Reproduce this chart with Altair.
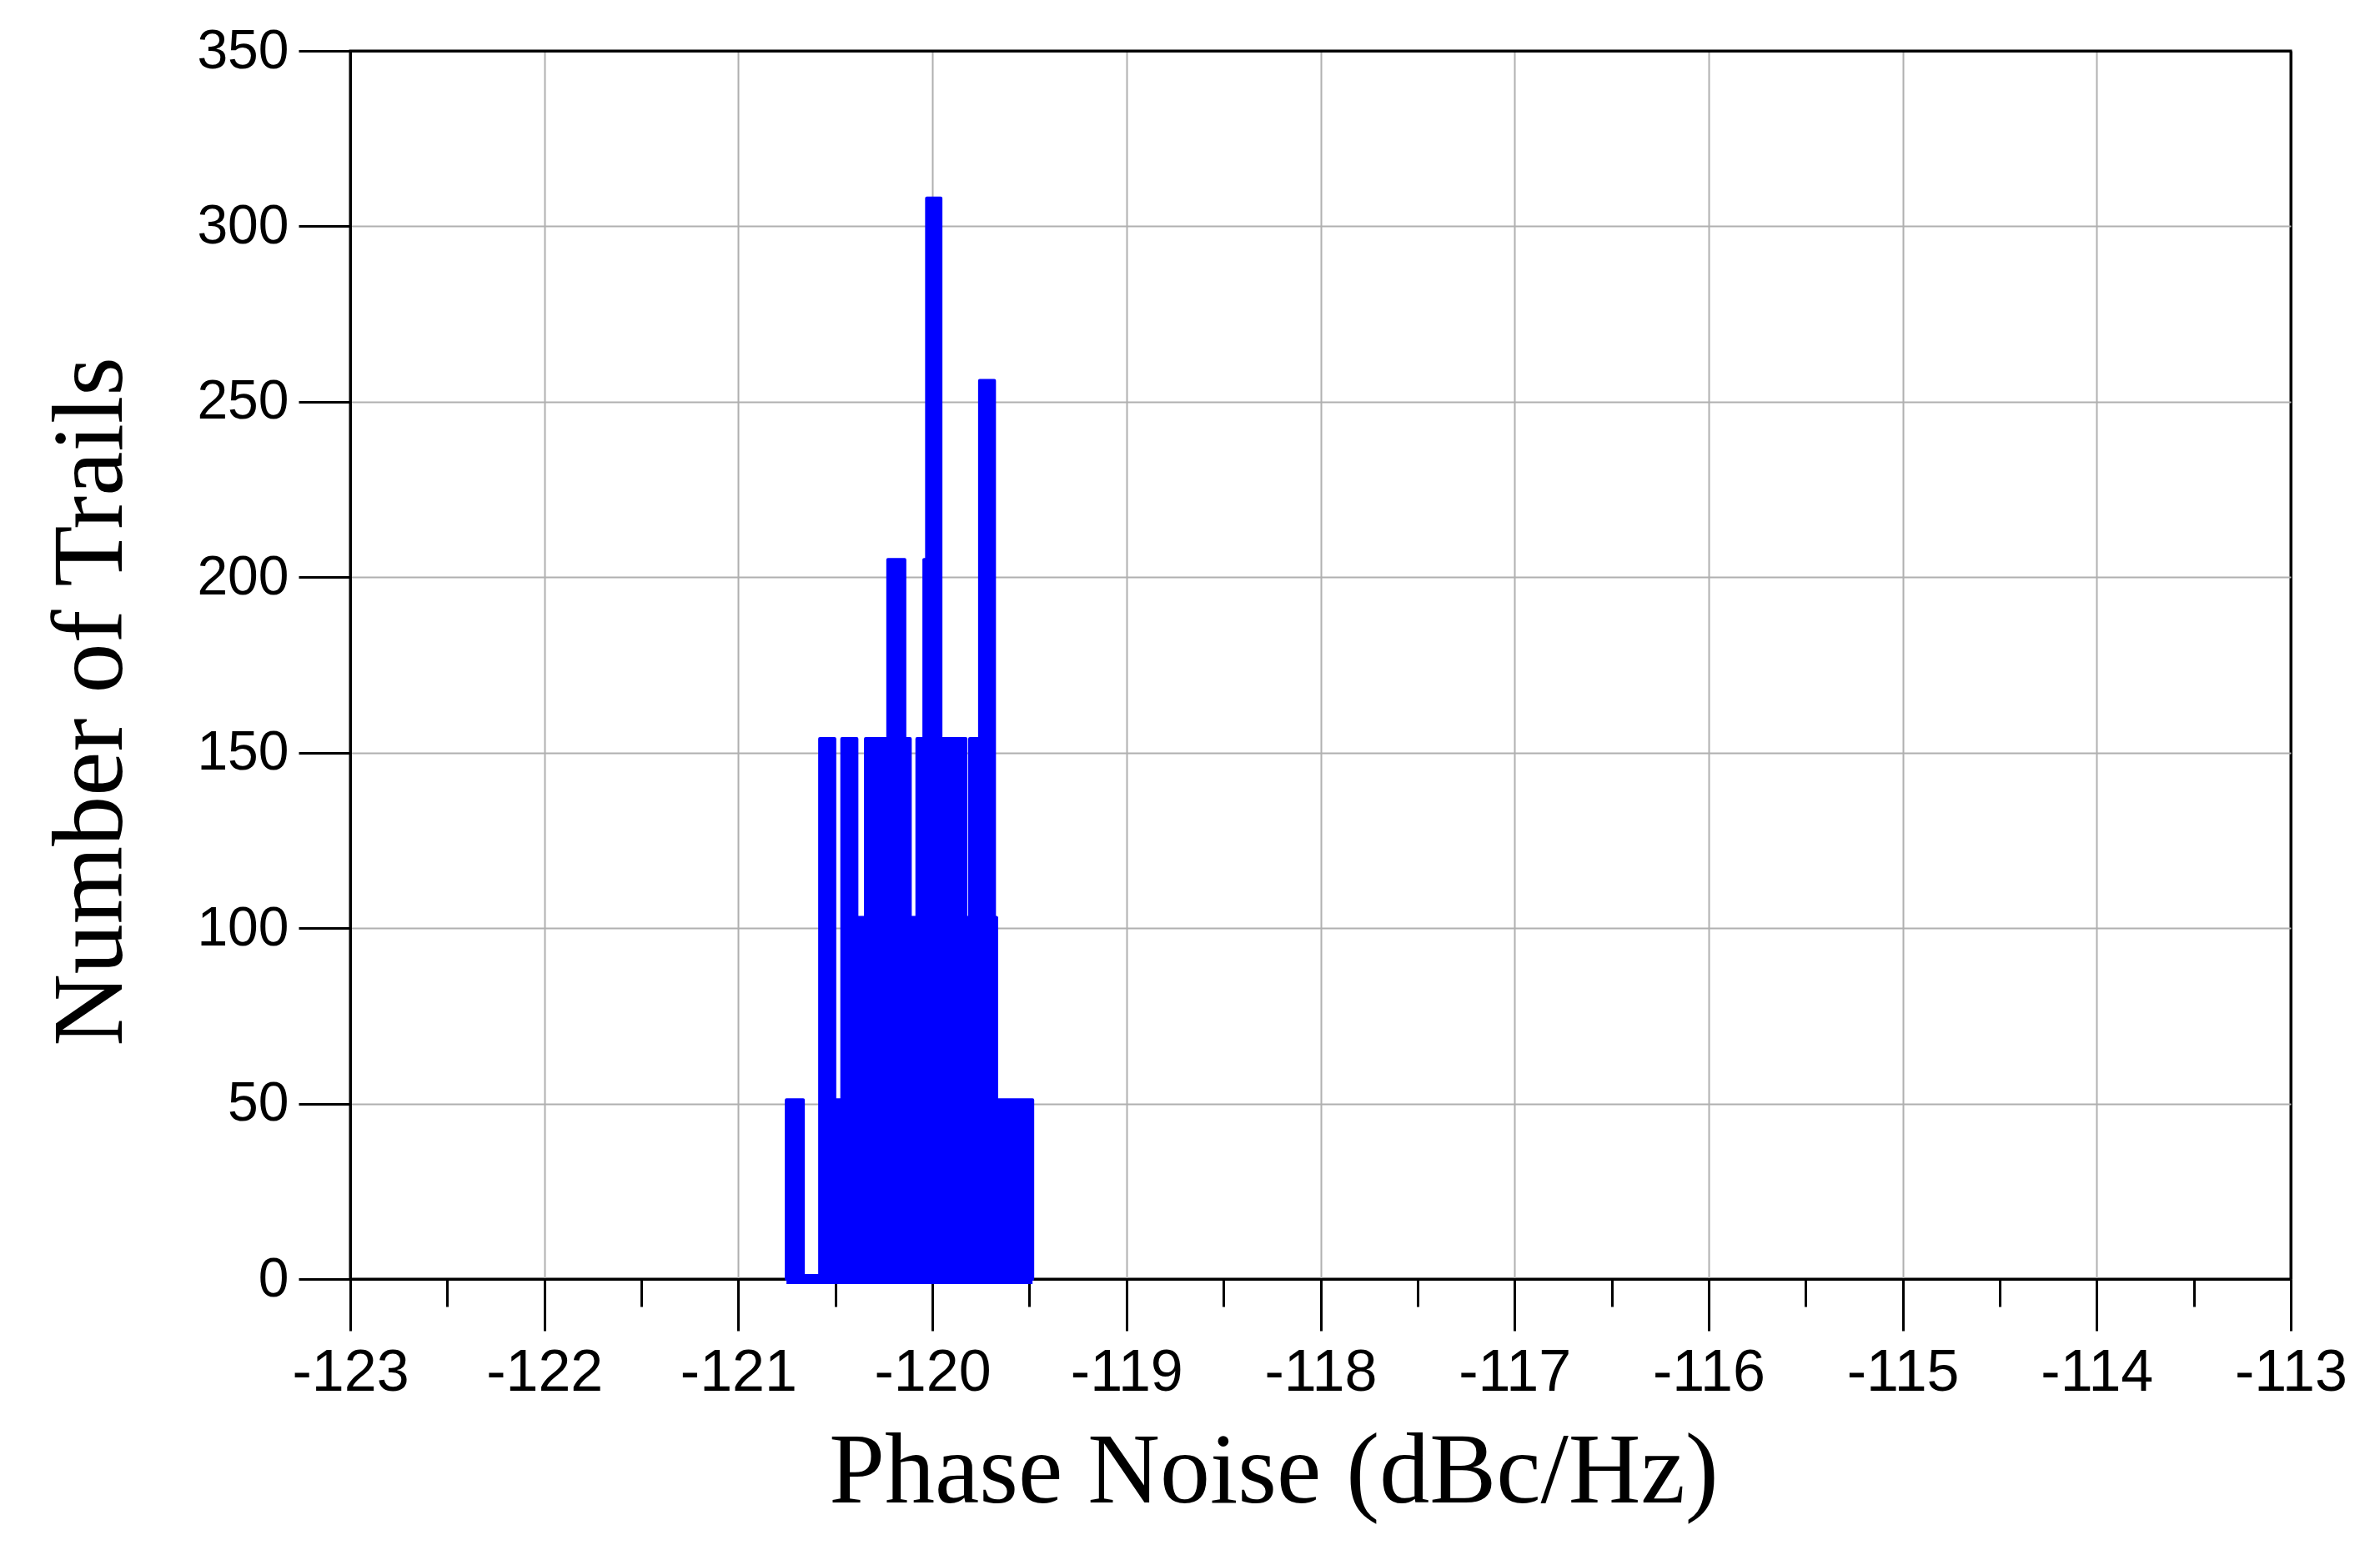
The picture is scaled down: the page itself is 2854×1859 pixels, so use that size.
import altair as alt
import pandas as pd

# Histogram bins (phase noise in dBc/Hz, number of trials)
bin_start = [-120.752, -120.666, -120.580, -120.504, -120.466, -120.390, -120.344,
             -120.229, -120.143, -120.115, -120.079, -120.043, -120.029, -119.957,
             -119.828, -119.807, -119.756, -119.681, -119.670]
bin_end = [-120.666, -120.580, -120.504, -120.466, -120.390, -120.344, -120.229,
           -120.143, -120.115, -120.079, -120.043, -120.029, -119.957, -119.828,
           -119.807, -119.756, -119.681, -119.670, -119.484]
counts = [51, 0, 154, 51, 154, 103, 154, 205, 154, 103, 154, 205, 308, 154,
          103, 154, 256, 103, 51]

x_major = [-123, -122, -121, -120, -119, -118, -117, -116, -115, -114, -113]
x_minor = [-122.5, -121.5, -120.5, -119.5, -118.5, -117.5, -116.5, -115.5, -114.5, -113.5]
y_ticks = [0, 50, 100, 150, 200, 250, 300, 350]

df = pd.DataFrame({"start": bin_start, "end": bin_end, "count": counts})

xscale = alt.Scale(domain=[-123, -113], nice=False, zero=False)
yscale = alt.Scale(domain=[0, 350], nice=False)

x_grid_color = {"condition": {"test": "datum.value === -113", "value": "black"}, "value": "#b0b0b0"}
x_grid_width = {"condition": {"test": "datum.value === -113", "value": 3}, "value": 2}
y_grid_color = {"condition": {"test": "datum.value === 350", "value": "black"}, "value": "#b0b0b0"}
y_grid_width = {"condition": {"test": "datum.value === 350", "value": 3}, "value": 2}

bars = alt.Chart(df).mark_rect(
    color="#0000FF", stroke="#0000FF", strokeWidth=4, strokeJoin="round"
).encode(
    x=alt.X("start:Q", scale=xscale, axis=alt.Axis(
        values=x_major, labelExpr="'' + datum.value", labelFlush=False,
        labelFont="Liberation Sans", labelFontSize=70, labelColor="black",
        labelPadding=16, tickSize=62, tickWidth=3, tickColor="black",
        domainColor="black", domainWidth=3,
        grid=True, gridColor=x_grid_color, gridWidth=x_grid_width,
        title="Phase Noise (dBc/Hz)", titleFont="Liberation Serif", titleFontSize=120,
        titleFontWeight="normal", titleColor="black",
        titleX=1107, titleY=231, titleBaseline="middle", titleAlign="center",
        orient="bottom")),
    x2="end:Q",
    y=alt.Y("count:Q", scale=yscale, axis=alt.Axis(
        values=y_ticks, labelFlush=False,
        labelFont="Liberation Sans", labelFontSize=66, labelColor="black",
        labelPadding=12, tickSize=62, tickWidth=3, tickColor="black",
        domainColor="black", domainWidth=3,
        grid=True, gridColor=y_grid_color, gridWidth=y_grid_width,
        title="Number of Trails", titleFont="Liberation Serif", titleFontSize=120,
        titleFontWeight="normal", titleColor="black", titleAngle=270,
        titleX=-311, titleY=780, titleBaseline="middle", titleAlign="center")),
    y2=alt.datum(0),
)

hidden_axis = alt.Axis(labels=False, ticks=False, domain=False, grid=False,
                       title="", orient="bottom")

# thick base stroke of the histogram outline, spanning all bins
base = alt.Chart(df).mark_rule(color="#0000FF", strokeWidth=12).encode(
    x=alt.X("min(start):Q", scale=xscale, axis=hidden_axis),
    x2="max(end):Q",
    y=alt.datum(0),
)

minor = alt.Chart(df).mark_point(opacity=0).encode(
    x=alt.X("start:Q", scale=xscale, axis=alt.Axis(
        values=x_minor, labels=False, tickSize=33, tickWidth=3, tickColor="black",
        domain=False, grid=False, title="", orient="bottom")),
)

chart = alt.layer(bars, base, minor).resolve_axis(x="independent").properties(
    width=2327, height=1473,
    padding={"left": 412, "top": 53, "right": 90, "bottom": 310},
    autosize=alt.AutoSizeParams(type="none"),
).configure_view(stroke="black", strokeWidth=3)

chart.save("out.html", embed_options={"renderer": "svg", "actions": False})
